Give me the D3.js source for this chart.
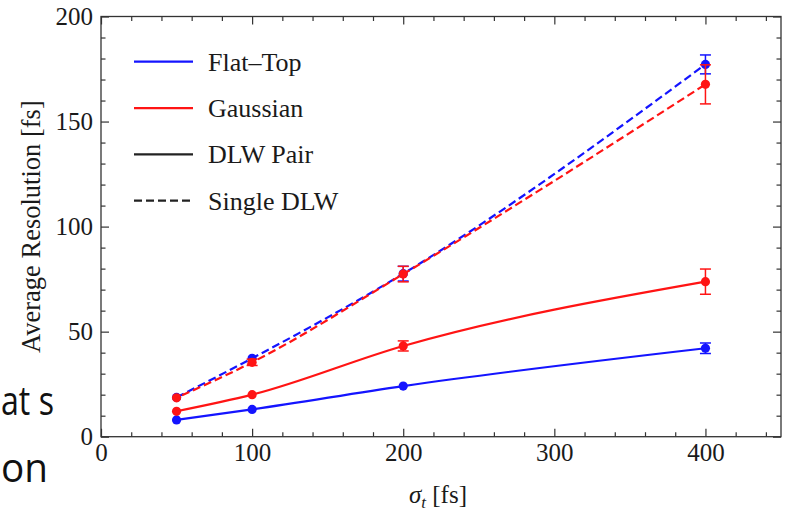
<!DOCTYPE html>
<html><head><meta charset="utf-8">
<script src="https://cdn.jsdelivr.net/npm/d3@7"></script>
<style>body{margin:0;background:#fff}svg{display:block}</style>
</head><body>
<svg id="c" width="786" height="511"></svg>
<script>
// ---- data ----
const sigma = [50, 100, 200, 400];
const flatPair = [8.0, 13.0, 24.1, 42.1];
const flatPairErr = [0.6, 0.8, 1.2, 2.5];
const gaussPair = [12.1, 20.0, 43.2, 73.8];
const gaussPairErr = [0.8, 1.0, 2.4, 6.0];
const flatSingle = [18.7, 37.3, 77.6, 177.2];
const flatSingleErr = [0.8, 1.2, 3.5, 4.5];
const gaussSingle = [18.5, 35.4, 77.4, 167.7];
const gaussSingleErr = [0.8, 1.5, 3.7, 9.3];
const legendLabels = ["Flat\u2013Top", "Gaussian", "DLW Pair", "Single DLW"];
const xTicks = [0, 100, 200, 300, 400];
const yTicks = [0, 50, 100, 150, 200];
const slideFragments = ["at s", "on"];

const BLUE = "#1414ff", RED = "#ff1414";
const svg = d3.select("#c");
const x = d3.scaleLinear().domain([0, 450]).range([101, 781]);
const y = d3.scaleLinear().domain([0, 200]).range([436.7, 16.5]);
const serif = "'Liberation Serif','Times New Roman',serif";
const txtCol = "#1a1a1a";

// slide text fragments (cut off by the slide edge in the original)
svg.append("text").attr("x", 1).attr("y", 415)
  .attr("font-family", "'Open Sans','Noto Sans',sans-serif").attr("font-size", 40).attr("fill", "#111")
  .attr("textLength", 53).attr("lengthAdjust", "spacingAndGlyphs").text(slideFragments[0]);
svg.append("text").attr("x", 1).attr("y", 482)
  .attr("font-family", "'Open Sans','Noto Sans',sans-serif").attr("font-size", 40).attr("fill", "#111")
  .attr("textLength", 47).attr("lengthAdjust", "spacingAndGlyphs").text(slideFragments[1]);

// axes
const xMinor = d3.range(0, 451, 20).filter(v => v % 100 !== 0);
const yMinor = d3.range(0, 201, 10).filter(v => v % 50 !== 0);
const axCol = "#333";
function styleAxis(g) {
  g.select(".domain").remove();
  g.selectAll("line").attr("stroke", axCol).attr("stroke-width", 1.2);
  g.selectAll("text").attr("font-family", serif).attr("font-size", 25).attr("fill", txtCol);
}
const b = svg.append("g").attr("transform", `translate(0,${y(0)})`);
b.call(d3.axisBottom(x).tickValues(xTicks).tickSizeInner(-8).tickSizeOuter(0).tickPadding(7).tickFormat(d3.format("d"))).call(styleAxis);
b.append("g").call(d3.axisBottom(x).tickValues(xMinor).tickSizeInner(-4.5).tickSizeOuter(0).tickFormat("")).call(styleAxis);
const t = svg.append("g").attr("transform", `translate(0,${y(200)})`);
t.call(d3.axisTop(x).tickValues(xTicks).tickSizeInner(-8).tickSizeOuter(0).tickFormat("")).call(styleAxis);
t.append("g").call(d3.axisTop(x).tickValues(xMinor).tickSizeInner(-4.5).tickSizeOuter(0).tickFormat("")).call(styleAxis);
const l = svg.append("g").attr("transform", `translate(${x(0)},0)`);
l.call(d3.axisLeft(y).tickValues(yTicks).tickSizeInner(-8).tickSizeOuter(0).tickPadding(8).tickFormat(d3.format("d"))).call(styleAxis);
l.append("g").call(d3.axisLeft(y).tickValues(yMinor).tickSizeInner(-4.5).tickSizeOuter(0).tickFormat("")).call(styleAxis);
const r = svg.append("g").attr("transform", `translate(${x(450)},0)`);
r.call(d3.axisRight(y).tickValues(yTicks).tickSizeInner(-8).tickSizeOuter(0).tickFormat("")).call(styleAxis);
r.append("g").call(d3.axisRight(y).tickValues(yMinor).tickSizeInner(-4.5).tickSizeOuter(0).tickFormat("")).call(styleAxis);
svg.append("rect").attr("x", x(0)).attr("y", y(200)).attr("width", x(450) - x(0)).attr("height", y(0) - y(200))
  .attr("fill", "none").attr("stroke", axCol).attr("stroke-width", 1.3);

// axis titles
svg.append("text").attr("transform", `translate(40,${(y(0) + y(200)) / 2}) rotate(-90)`)
  .attr("text-anchor", "middle").attr("font-family", serif).attr("font-size", 26.5).attr("fill", txtCol)
  .text("Average Resolution [fs]");
const xt = svg.append("text").attr("x", (x(0) + x(450)) / 2 - 3).attr("y", 503).attr("text-anchor", "middle")
  .attr("font-family", serif).attr("font-size", 25).attr("fill", txtCol);
xt.append("tspan").attr("font-style", "italic").text("\u03C3");
xt.append("tspan").attr("font-style", "italic").attr("font-size", 17).attr("dy", 5).text("t");
xt.append("tspan").attr("dy", -5).text(" [fs]");

// series
const series = [
  {v: flatSingle, e: flatSingleErr, c: BLUE, dash: "8,4", off: 0},
  {v: flatPair, e: flatPairErr, c: BLUE, dash: null, off: 0},
  {v: gaussSingle, e: gaussSingleErr, c: RED, dash: "8,4", off: 6},
  {v: gaussPair, e: gaussPairErr, c: RED, dash: null, off: 0}
];
const line = d3.line().x(d => x(d[0])).y(d => y(d[1])).curve(d3.curveMonotoneX);
series.forEach(s => {
  const pts = sigma.map((sx, i) => [sx, s.v[i], s.e[i]]);
  svg.append("path").attr("d", line(pts)).attr("fill", "none").attr("stroke", s.c)
    .attr("stroke-width", 2.2).attr("stroke-dasharray", s.dash).attr("stroke-dashoffset", s.off);
  const g = svg.append("g").attr("stroke", s.c).attr("stroke-width", 1.5);
  pts.forEach(p => {
    const cx = x(p[0]);
    g.append("line").attr("x1", cx).attr("x2", cx).attr("y1", y(p[1] - p[2])).attr("y2", y(p[1] + p[2]));
    if (p[2] > 1.2) {
      g.append("line").attr("x1", cx - 5.5).attr("x2", cx + 5.5).attr("y1", y(p[1] - p[2])).attr("y2", y(p[1] - p[2]));
      g.append("line").attr("x1", cx - 5.5).attr("x2", cx + 5.5).attr("y1", y(p[1] + p[2])).attr("y2", y(p[1] + p[2]));
    }
  });
  svg.append("g").selectAll("circle").data(pts).join("circle")
    .attr("cx", d => x(d[0])).attr("cy", d => y(d[1])).attr("r", 4.6).attr("fill", s.c);
});

// legend
const legendStyles = [
  {c: BLUE, dash: null}, {c: RED, dash: null}, {c: "#222", dash: null}, {c: "#222", dash: "8,4"}
];
const ly = d3.scalePoint().domain(legendLabels).range([61.7, 200.7]);
legendLabels.forEach((lab, i) => {
  const yy = ly(lab);
  svg.append("line").attr("x1", 134).attr("x2", 193).attr("y1", yy).attr("y2", yy)
    .attr("stroke", legendStyles[i].c).attr("stroke-width", 2.2).attr("stroke-dasharray", legendStyles[i].dash);
  svg.append("text").attr("x", 208).attr("y", yy + 8.8).attr("font-family", serif).attr("font-size", 26)
    .attr("fill", txtCol).text(lab);
});
</script>
</body></html>
